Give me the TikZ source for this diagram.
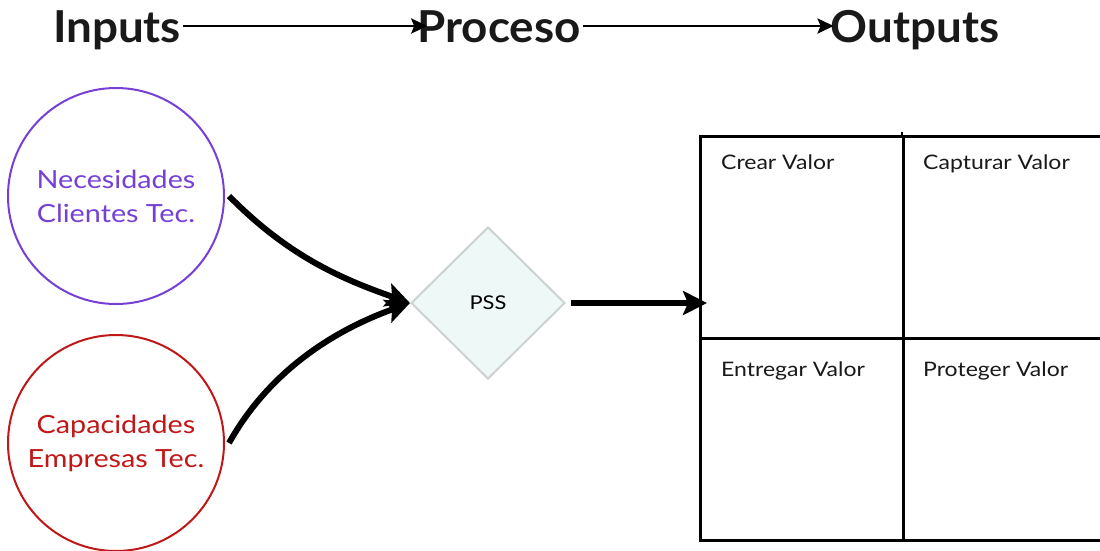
\documentclass[tikz,border=0pt]{standalone}
\usepackage{fontspec}
\setmainfont{Lato}[FakeStretch=1.15]
\newfontfamily\headfont{Lato}[FakeStretch=1.04]
\usetikzlibrary{arrows.meta,shapes.geometric}
\definecolor{purp}{HTML}{7540D6}
\definecolor{redc}{HTML}{C01818}
\definecolor{pssfill}{HTML}{EEF8F7}
\definecolor{pssdraw}{HTML}{CDD2D2}
\tikzset{
  head/.style={font=\headfont\fontsize{44}{48}\selectfont\bfseries, inner sep=0pt, anchor=base, text=black!90},
  incircle/.style={circle, draw, line width=2pt, minimum size=216pt, inner sep=0pt, align=center, font=\fontsize{25}{34}\selectfont},
  cell/.style={draw, line width=2.5pt, minimum width=203pt, minimum height=202pt, inner sep=0pt, anchor=north west},
  celltxt/.style={font=\fontsize{20}{22}\selectfont, anchor=base west, inner sep=0pt, text=black!90},
  thin arrow/.style={line width=2.8pt, -{Stealth[length=16pt, width=15pt, inset=3pt]}},
  fat arrow/.style={line width=6pt, -{Stealth[length=24pt, width=24pt, inset=5pt]}},
}
\begin{document}
\begin{tikzpicture}[x=1pt, y=-1pt]
\clip (0,0) rectangle (1100,550);
\fill[white] (0,0) rectangle (1100,550);
% headers
\node[head] (inp) at (117,42) {Inputs};
\node[head] (pro) at (499,42) {Proceso};
\node[head] (out) at (915,42) {Outputs};
\draw[thin arrow] ([xshift=2pt]inp.east |- 0,26) -- ([xshift=10pt]pro.west |- 0,26);
\draw[thin arrow] ([xshift=2pt]pro.east |- 0,26) -- ([xshift=3pt]out.west |- 0,26);
% inputs
\node[incircle, draw=purp, text=purp] (nec) at (116,196) {Necesidades\\Clientes Tec.};
\node[incircle, draw=redc, text=redc] (cap) at (116,443) {Capacidades\\Empresas Tec.};
% process
\node[diamond, draw=pssdraw, fill=pssfill, line width=2pt, minimum width=154pt, minimum height=152pt, inner sep=0pt, font=\fontsize{19}{20}\selectfont] (pss) at (488,303) {PSS};
% grid
\node[cell] (c1) at (699,135) {};
\node[cell] (c2) at (902,135) {};
\node[cell] (c3) at (699,337) {};
\node[cell] (c4) at (902,337) {};
\draw[line width=2.5pt] (902,132) -- (c2.north west);
\node[celltxt] (t1) at (721,169) {Crear Valor};
\node[celltxt] (t2) at (923,169) {Capturar Valor};
\node[celltxt] (t3) at (721,376) {Entregar Valor};
\node[celltxt] (t4) at (923,376) {Proteger Valor};
% connectors
\draw[fat arrow] ([xshift=4pt]nec.east) .. controls (290,258) and (345,280) .. (pss.west);
\draw[fat arrow] ([xshift=4pt]cap.east) .. controls (270,370) and (335,330) .. (pss.west);
\draw[fat arrow] ([xshift=5pt]pss.east) -- ([xshift=8pt]pss.east -| c1.west);
\end{tikzpicture}
\end{document}
